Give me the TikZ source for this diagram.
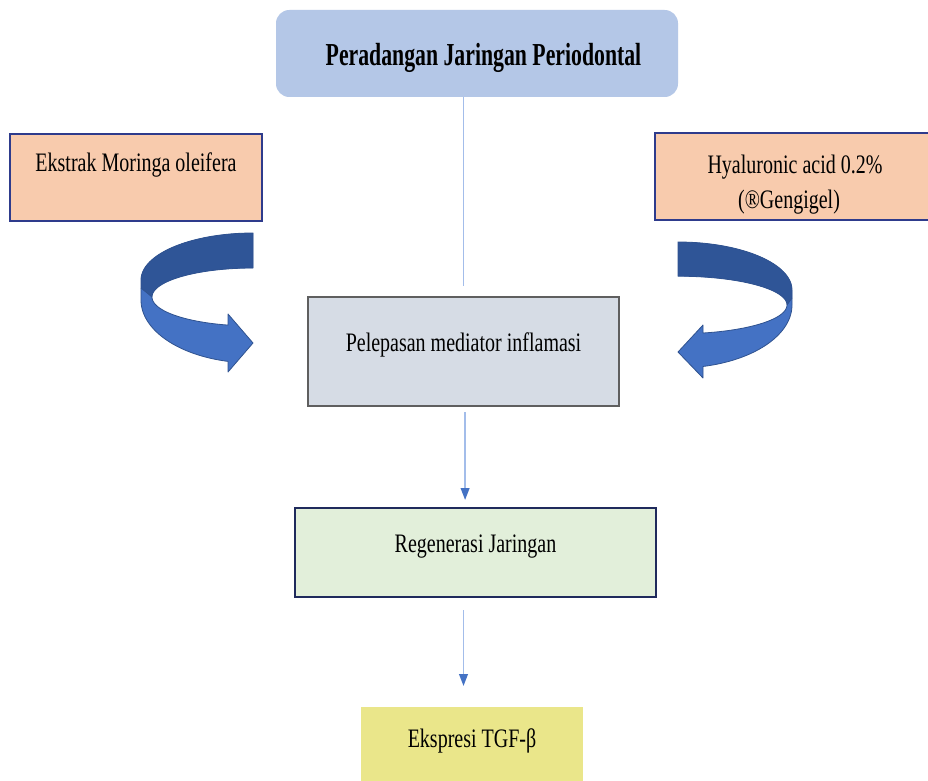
\documentclass[tikz,border=0pt]{standalone}
\usepackage{fontspec}
\setmainfont{Liberation Serif}
\newfontfamily\cf[FakeStretch=0.75]{Liberation Serif}
\newfontfamily\cfb[FakeStretch=0.68]{Liberation Serif}
\usetikzlibrary{arrows.meta}
\definecolor{titlefill}{HTML}{B4C7E7}
\definecolor{peach}{HTML}{F8CBAD}
\definecolor{peachline}{HTML}{2E3B8C}
\definecolor{midfill}{HTML}{D6DCE5}
\definecolor{midline}{HTML}{5F5F5F}
\definecolor{greenfill}{HTML}{E2EFDA}
\definecolor{greenline}{HTML}{1F2A5C}
\definecolor{yellowfill}{HTML}{EAE68A}
\definecolor{connline}{HTML}{A3BDEA}
\definecolor{tipblue}{HTML}{4472C4}
\definecolor{arrlight}{HTML}{4472C4}
\definecolor{arrdark}{HTML}{2F5597}
\definecolor{arredge}{HTML}{2F528F}
\tikzset{
  box/.style={inner sep=0pt, outer sep=0pt, align=center,
    font=\cf\fontsize{20}{26.25}\selectfont},
  titlebox/.style={box, fill=titlefill, rounded corners=10pt,
    font=\cfb\bfseries\fontsize{24}{28}\selectfont},
  sidebox/.style={box, fill=peach, draw=peachline, line width=1.5pt},
  midbox/.style={box, fill=midfill, draw=midline, line width=1.5pt},
  greenbox/.style={box, fill=greenfill, draw=greenline, line width=2.2pt},
  yellowbox/.style={box, fill=yellowfill},
  conn/.style={draw=connline, line width=1.4pt},
  arr/.style={conn, -{Triangle[length=9pt,width=6.5pt,color=tipblue,fill=tipblue]}},
  curvearrow/.style={fill=arrlight},
  curveedge/.style={draw=arredge, line width=0.6pt, line join=round},
}
\begin{document}
\begin{tikzpicture}[x=0.75pt,y=-0.75pt]
\useasboundingbox (0,0) rectangle (928,781);
\clip (0,0) rectangle (928,781);
\fill[white] (0,0) rectangle (928,781);

% nodes
\node[titlebox, minimum width=301.5pt, text height=41.7pt, text depth=23.55pt]
  (title) at (477,53.5) {\hspace*{9.75pt}Peradangan Jaringan Periodontal};
\node[sidebox, minimum width=189pt, text height=28.5pt, text depth=36.75pt]
  (ekstrak) at (136,177.5) {Ekstrak Moringa oleifera};
\node[sidebox, minimum width=210pt, text height=57pt, text depth=8.25pt]
  (hyal) at (795,176.5) {Hyaluronic acid 0.2\%\\\hspace*{-9pt}(®Gengigel)};
\node[midbox, minimum width=233.25pt, text height=40.5pt, text depth=41.25pt]
  (mid) at (463.5,351.5) {Pelepasan mediator inflamasi};
\node[greenbox, minimum width=270.75pt, text height=33pt, text depth=33.75pt]
  (regen) at (475.5,552.5) {Regenerasi Jaringan};
\node[yellowbox, minimum width=166.5pt, text height=30pt, text depth=39.75pt]
  (tgf) at (472,753.5) {Ekspresi TGF-β};

% connectors
\draw[conn, shorten >=8.25pt] (title.south -| mid.north) -- (mid.north);
\draw[arr, shorten <=4.5pt, shorten >=6pt] ([xshift=1.2pt]mid.south) -- ([xshift=1.2pt]mid.south |- regen.north);
\draw[arr, shorten <=9.75pt, shorten >=15.75pt] (regen.south -| mid.south) -- (mid.south |- tgf.north);

% left curved arrow
\def\leftarrowpath{
  plot[domain=270:180, samples=50, variable=\t] ({253+112*cos(\t)},{280+47*sin(\t)})
  -- (141,300)
  -- plot[domain=180:102.9, samples=50, variable=\t] ({253+112*cos(\t)},{300+63*sin(\t)})
  -- (228,372) -- (253,343) -- (228,314)
  -- plot[domain=104.3:270, samples=60, variable=\t] ({253+101*cos(\t)},{297+29*sin(\t)})
  -- cycle}
\fill[curvearrow] \leftarrowpath;
\fill[arrdark]
  plot[domain=270:180, samples=50, variable=\t] ({253+112*cos(\t)},{280+47*sin(\t)})
  -- (141,288) -- (152,297)
  -- plot[domain=180:270, samples=50, variable=\t] ({253+101*cos(\t)},{297+29*sin(\t)})
  -- cycle;
\draw[curveedge] \leftarrowpath;
\draw[curveedge] (141,288) -- (152,297);

% right curved arrow
\def\rightarrowpath{
  plot[domain=-90:0, samples=50, variable=\t] ({678+114*cos(\t)},{290+48*sin(\t)})
  -- (792,305)
  -- plot[domain=0:77.3, samples=50, variable=\t] ({678+114*cos(\t)},{305+63*sin(\t)})
  -- (703,378) -- (678,352) -- (703,325)
  -- plot[domain=76.7:-90, samples=60, variable=\t] ({678+109*cos(\t)},{305+28.8*sin(\t)})
  -- cycle}
\fill[curvearrow] \rightarrowpath;
\fill[arrdark]
  plot[domain=-90:0, samples=50, variable=\t] ({678+114*cos(\t)},{290+48*sin(\t)})
  -- (792,298) -- (787,305)
  -- plot[domain=0:-90, samples=50, variable=\t] ({678+109*cos(\t)},{305+28.8*sin(\t)})
  -- cycle;
\draw[curveedge] \rightarrowpath;
\draw[curveedge] (792,298) -- (787,305);
\end{tikzpicture}
\end{document}
